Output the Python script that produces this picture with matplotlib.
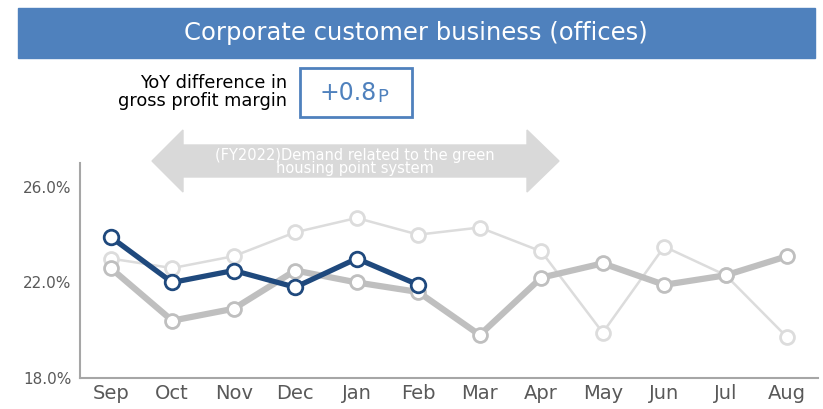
import matplotlib.pyplot as plt
from matplotlib.patches import Polygon, Rectangle

# gross profit margin (%) by month
months = ["Sep", "Oct", "Nov", "Dec", "Jan", "Feb", "Mar", "Apr", "May", "Jun", "Jul", "Aug"]
two_years_ago = [23.0, 22.6, 23.1, 24.1, 24.7, 24.0, 24.3, 23.3, 19.9, 23.5, 22.3, 19.7]
last_year = [22.6, 20.4, 20.9, 22.5, 22.0, 21.6, 19.8, 22.2, 22.8, 21.9, 22.3, 23.1]
this_year = [23.9, 22.0, 22.5, 21.8, 23.0, 21.9]
yticks = [18.0, 22.0, 26.0]

title = "Corporate customer business (offices)"
yoy_label = "YoY difference in\ngross profit margin"
yoy_num, yoy_unit = "+0.8", "P"
arrow_text = "(FY2022)Demand related to the green\nhousing point system"

plt.rcParams['font.family'] = ['DejaVu Sans']

W, H = 823, 409
fig = plt.figure(figsize=(W / 100, H / 100), dpi=100)


def fx(px):
    return px / W


def fy(py):
    return 1 - py / H


ax = fig.add_axes([fx(80), fy(378), fx(818) - fx(80), fy(163) - fy(378)])

x = list(range(len(months)))
ax.plot(x, two_years_ago, '-o', color='#DCDCDC', lw=1.8, ms=10, mfc='white', mec='#DCDCDC', mew=2, zorder=2)
ax.plot(x, last_year, '-o', color='#BFBFBF', lw=4.5, ms=10, mfc='white', mec='#BFBFBF', mew=2, zorder=3)
ax.plot(x[:len(this_year)], this_year, '-o', color='#1F497D', lw=3.8, ms=10.5, mfc='white', mec='#1F497D', mew=2, zorder=4)

ax.set_xlim(-0.5, 11.5)
ax.set_ylim(18, 27)
ax.set_xticks(x)
ax.set_xticklabels(months, fontsize=14, color='#595959')
ax.set_yticks(yticks)
ax.set_yticklabels([f"{v:.1f}%" for v in yticks], fontsize=11, color='#595959')
ax.tick_params(length=0, pad=6)
ax.tick_params(axis='x', pad=4)
for s in ['top', 'right']:
    ax.spines[s].set_visible(False)
for s in ['left', 'bottom']:
    ax.spines[s].set_color('#A6A6A6')
    ax.spines[s].set_linewidth(1.5)

# title band
fig.patches.append(Rectangle((fx(18), fy(58)), fx(815) - fx(18), fy(8) - fy(58),
                             transform=fig.transFigure, color='#4F81BD', zorder=0))
fig.text(fx(416), fy(33), title, color='white', fontsize=17.5, ha='center', va='center')

# YoY box
fig.text(fx(287), fy(92), yoy_label, fontsize=12.8, ha='right', va='center', linespacing=1.05)
fig.patches.append(Rectangle((fx(300), fy(117)), fx(412) - fx(300), fy(68) - fy(117),
                             transform=fig.transFigure, fill=False, ec='#4F81BD', lw=2))
fig.text(fx(377), fy(93), yoy_num, fontsize=17, color='#4F81BD', ha='right', va='center')
fig.text(fx(377), fy(97), yoy_unit, fontsize=13, color='#4F81BD', ha='left', va='center')

# double arrow
pts = [(152, 161), (183, 130), (183, 145), (527, 145), (527, 130), (559, 161),
       (527, 192), (527, 177), (183, 177), (183, 192)]
fig.patches.append(Polygon([(fx(a), fy(b)) for a, b in pts], closed=True,
                           transform=fig.transFigure, color='#D9D9D9', zorder=1))
fig.text(fx(355), fy(162), arrow_text, fontsize=10.5, color='white', ha='center', va='center',
         linespacing=0.9, fontweight='medium', zorder=5)

fig.savefig("out.png", dpi=100)
